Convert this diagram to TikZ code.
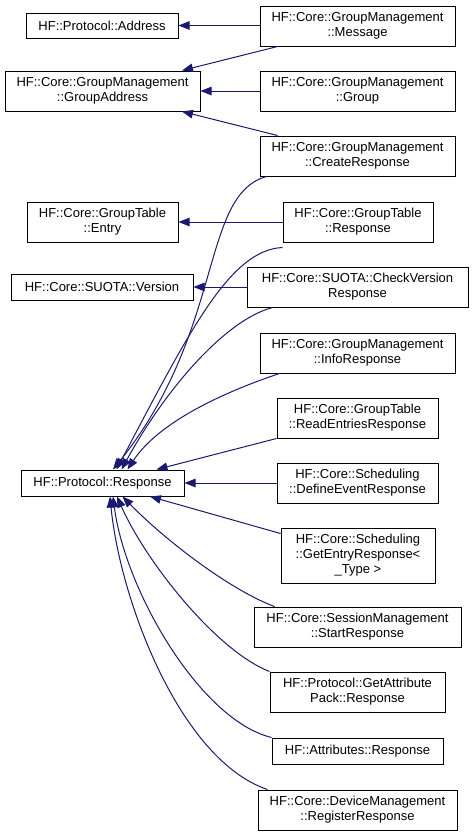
\documentclass[tikz,border=0pt]{standalone}
\usepackage{fontspec}
\setmainfont{Liberation Sans}
\usetikzlibrary{arrows.meta}
\definecolor{edgeblue}{HTML}{191970}
\tikzset{
  cls/.style={draw=black, line width=1pt, fill=white, align=center, inner sep=0pt,
    font=\fontsize{13}{15}\selectfont, text=black},
  inh/.style={draw=edgeblue, line width=1pt,
    -{Triangle[length=11pt,width=8.5pt,fill=edgeblue]}},
}
\begin{document}
\begin{tikzpicture}[x=1pt,y=-1pt]
\useasboundingbox (0,0) rectangle (473,836);
% nodes
\node[cls, minimum width=152, minimum height=25] (addr) at (102,25.5) {HF::Protocol::Address};
\node[cls, minimum width=195, minimum height=40] (msg) at (357.5,26) {HF::Core::GroupManagement\\::Message};
\node[cls, minimum width=195, minimum height=40] (gaddr) at (102.5,91) {HF::Core::GroupManagement\\::GroupAddress};
\node[cls, minimum width=195, minimum height=40] (grp) at (357.5,91) {HF::Core::GroupManagement\\::Group};
\node[cls, minimum width=195, minimum height=40] (cresp) at (357.5,156) {HF::Core::GroupManagement\\::CreateResponse};
\node[cls, minimum width=151, minimum height=40] (entry) at (102.5,222) {HF::Core::GroupTable\\::Entry};
\node[cls, minimum width=150, minimum height=40] (gtresp) at (358,222) {HF::Core::GroupTable\\::Response};
\node[cls, minimum width=182, minimum height=26] (ver) at (102,287) {HF::Core::SUOTA::Version};
\node[cls, minimum width=221, minimum height=40] (chk) at (357.5,287) {HF::Core::SUOTA::CheckVersion\\Response};
\node[cls, minimum width=195, minimum height=40] (info) at (357.5,353) {HF::Core::GroupManagement\\::InfoResponse};
\node[cls, minimum width=161, minimum height=40] (read) at (357.5,418) {HF::Core::GroupTable\\::ReadEntriesResponse};
\node[cls, minimum width=163, minimum height=26] (presp) at (102.5,483) {HF::Protocol::Response};
\node[cls, minimum width=161, minimum height=40] (defev) at (357.5,483) {HF::Core::Scheduling\\::DefineEventResponse};
\node[cls, minimum width=154, minimum height=55] (getent) at (358,555.5) {HF::Core::Scheduling\\::GetEntryResponse<\\ \_Type >};
\node[cls, minimum width=207, minimum height=40] (start) at (357.5,627) {HF::Core::SessionManagement\\::StartResponse};
\node[cls, minimum width=175, minimum height=40] (gap) at (357.5,692) {HF::Protocol::GetAttribute\\Pack::Response};
\node[cls, minimum width=171, minimum height=26] (attr) at (357.5,751) {HF::Attributes::Response};
\node[cls, minimum width=199, minimum height=40] (reg) at (357.5,810) {HF::Core::DeviceManagement\\::RegisterResponse};
% edges
\draw[inh] (msg.west |- addr.east) -- (addr.east);
\draw[inh] ([xshift=18]msg.south west) -- ([xshift=79.5]gaddr.north);
\draw[inh] (grp.west) -- (gaddr.east);
\draw[inh] ([xshift=18]cresp.north west) -- ([xshift=79.5]gaddr.south);
\draw[inh] ([xshift=7]cresp.south west) .. controls (200,195) and (225,330) .. ([xshift=10.5]presp.north);
\draw[inh] (gtresp.west) -- (gtresp.west -| entry.east);
\draw[inh] ([yshift=-5]gtresp.south west) .. controls (230,250) and (190,330) .. ([xshift=14]presp.north);
\draw[inh] (chk.west) -- (chk.west -| ver.east);
\draw[inh] ([xshift=26]chk.south west) .. controls (225,320) and (165,390) .. ([xshift=19]presp.north);
\draw[inh] ([xshift=20]info.south west) .. controls (230,390) and (160,420) .. ([xshift=25]presp.north);
\draw[inh] (read.south west) -- ([xshift=54]presp.north);
\draw[inh] (defev.west) -- (presp.east);
\draw[inh] ([yshift=-6]getent.north west) -- ([xshift=47.5]presp.south);
\draw[inh] ([xshift=21]start.north west) .. controls (230,590) and (165,540) .. ([xshift=20]presp.south);
\draw[inh] (gap.north west) .. controls (215,650) and (145,560) .. ([xshift=14.5]presp.south);
\draw[inh] (attr.north west) .. controls (200,720) and (125,590) .. ([xshift=10.5]presp.south);
\draw[inh] ([xshift=10]reg.north west) .. controls (180,760) and (120,600) .. ([xshift=7.5]presp.south);
\end{tikzpicture}
\end{document}
